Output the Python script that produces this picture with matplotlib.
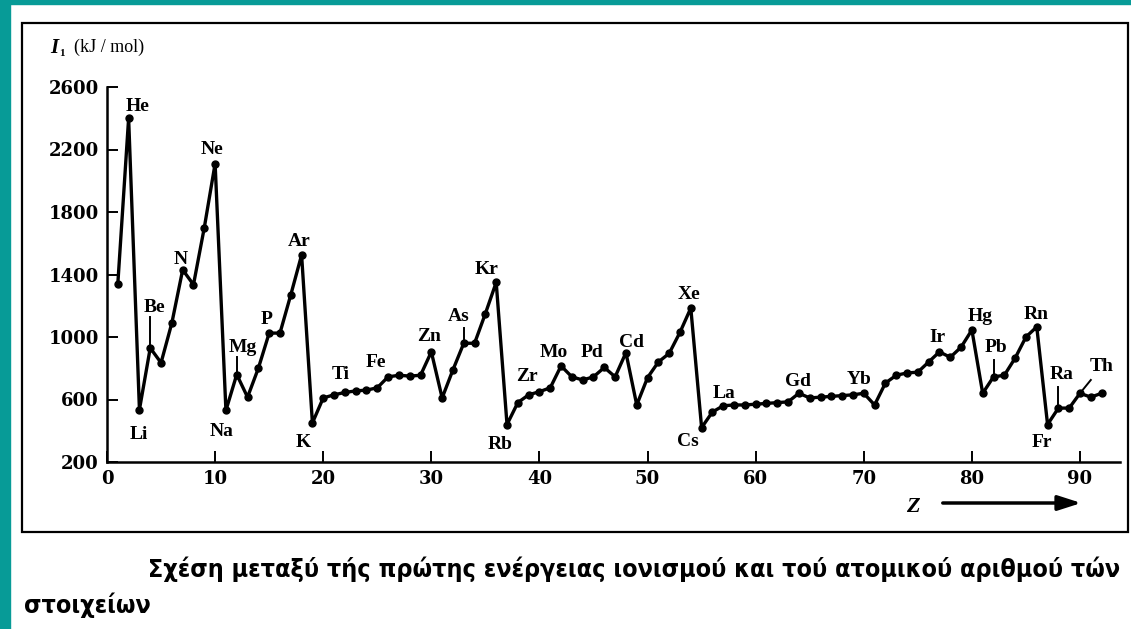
import numpy as np
import matplotlib
matplotlib.use('Agg')
import matplotlib.pyplot as plt
from matplotlib import font_manager
from matplotlib.patches import Rectangle

# first ionisation energy, Z = 1..92
Z = np.arange(1, 93)
IE = [1340, 2400, 535, 930, 835, 1090, 1430, 1335, 1700, 2110,
      530, 760, 615, 800, 1025, 1025, 1270, 1525, 450, 610,
      630, 645, 655, 660, 675, 745, 755, 750, 755, 905,
      610, 790, 960, 960, 1150, 1350, 440, 580, 630, 650,
      675, 815, 745, 725, 745, 805, 745, 900, 565, 740,
      840, 895, 1030, 1185, 420, 520, 560, 565, 565, 570,
      575, 580, 585, 640, 610, 615, 620, 625, 630, 640,
      565, 705, 755, 770, 775, 840, 905, 870, 935, 1045,
      640, 745, 755, 865, 1000, 1065, 440, 545, 545, 640,
      615, 640]

# element labels: symbol, x, y (data units)
lab_sym = ['He', 'Ne', 'Li', 'Be', 'N', 'Na', 'Mg', 'P', 'Ar', 'K', 'Ti', 'Fe',
           'Zn', 'As', 'Kr', 'Rb', 'Zr', 'Mo', 'Pd', 'Cd', 'Xe', 'Cs', 'La',
           'Gd', 'Yb', 'Ir', 'Hg', 'Pb', 'Rn', 'Ra', 'Th', 'Fr']
lab_x = [2.8, 9.7, 2.9, 4.4, 6.8, 10.6, 12.6, 14.8, 17.8, 18.2, 21.6, 24.9,
         29.8, 32.5, 35.1, 36.4, 38.8, 41.3, 44.9, 48.5, 53.8, 53.7, 57.1,
         63.9, 69.6, 76.8, 80.8, 82.2, 85.9, 88.3, 92.0, 86.5]
lab_y = [2478, 2197, 373, 1186, 1493, 392, 936, 1109, 1608, 322, 757, 834,
         1006, 1134, 1429, 309, 750, 898, 898, 962, 1275, 328, 641,
         712, 725, 994, 1134, 930, 1147, 757, 814, 322]

# short leader strokes from a point up to its label
lead_x0 = [4, 12, 33, 82, 88, 90]
lead_y0 = [930, 760, 960, 745, 545, 640]
lead_x1 = [4, 12, 33, 82, 88, 91]
lead_y1 = [1130, 870, 1058, 853, 680, 725]

yticks = [200, 600, 1000, 1400, 1800, 2200, 2600]
xticks = [0, 10, 20, 30, 40, 50, 60, 70, 80, 90]

caption1 = 'Σχέση μεταξύ τής πρώτης ενέργειας ιονισμού και τού ατομικού αριθμού τών'
caption2 = 'στοιχείων'

W, H = 1131, 629
fig = plt.figure(figsize=(W / 100, H / 100), dpi=100)
fig.patch.set_facecolor('white')

def px(x, y):
    return x / W, 1 - y / H

# teal border (top and left)
teal = '#079b97'
fig.patches.append(Rectangle((0, 1 - 4 / H), 1, 4 / H, transform=fig.transFigure,
                             color=teal, zorder=0))
fig.patches.append(Rectangle((0, 0), 10 / W, 1, transform=fig.transFigure,
                             color=teal, zorder=0))
# frame around chart
x0, y0 = px(22, 532)
x1, y1 = px(1128, 23)
fig.patches.append(Rectangle((x0, y0), x1 - x0, y1 - y0, transform=fig.transFigure,
                             fill=False, ec='black', lw=1.6, zorder=1))

ax = fig.add_axes([107 / W, 1 - 462 / H, 1013 / W, 375 / H])
ax.set_facecolor('none')
ax.plot(Z, IE, '-', color='black', lw=2.4, marker='o', ms=5, clip_on=False)

for a, b, c, d in zip(lead_x0, lead_y0, lead_x1, lead_y1):
    ax.plot([a, c], [b, d], color='black', lw=1.4, clip_on=False)

for s, x, y in zip(lab_sym, lab_x, lab_y):
    ax.text(x, y, s, ha='center', va='center', fontsize=14, fontweight='bold',
            family='Liberation Serif', clip_on=False)

ax.set_xlim(0, 93.7)
ax.set_ylim(200, 2600)
ax.spines['top'].set_visible(False)
ax.spines['right'].set_visible(False)
ax.spines['left'].set_linewidth(1.8)
ax.spines['bottom'].set_linewidth(1.8)
ax.set_xticks(xticks)
ax.set_yticks(yticks)
ax.tick_params(direction='in', length=8, width=1.4, pad=6)
for t in ax.get_xticklabels() + ax.get_yticklabels():
    t.set_family('DejaVu Serif')
    t.set_fontweight('bold')
    t.set_fontsize(13)

# y label I1 (kJ / mol)
fig.text(*px(50, 48), 'I', fontsize=15, fontweight='bold', style='italic',
         family='Liberation Serif', ha='left', va='center')
fig.text(*px(59, 53), '1', fontsize=8, fontweight='bold',
         family='Liberation Serif', ha='left', va='center')
fig.text(*px(74, 47), '(kJ / mol)', fontsize=13, family='Liberation Serif',
         ha='left', va='center')

# Z arrow
fig.text(*px(913, 507), 'Z', fontsize=16, fontweight='bold', style='italic',
         family='Liberation Serif', ha='center', va='center')
ax.annotate('', xy=px(1084, 503), xytext=px(940, 503), xycoords='figure fraction',
            textcoords='figure fraction',
            arrowprops=dict(arrowstyle='-|>,head_length=1.4,head_width=0.45',
                            color='black', lw=2.5))

# caption
names = {f.name for f in font_manager.fontManager.ttflist}
if 'Liberation Sans Narrow' in names:
    cap_kw = dict(family='Liberation Sans Narrow', fontweight='bold')
else:
    cap_kw = dict(family='DejaVu Sans', fontstretch='condensed', fontweight='bold')
fig.text(*px(148, 577), caption1, fontsize=18, ha='left', va='baseline', **cap_kw)
fig.text(*px(24, 613), caption2, fontsize=18, ha='left', va='baseline', **cap_kw)

fig.savefig('out.png', dpi=100, facecolor='white')
